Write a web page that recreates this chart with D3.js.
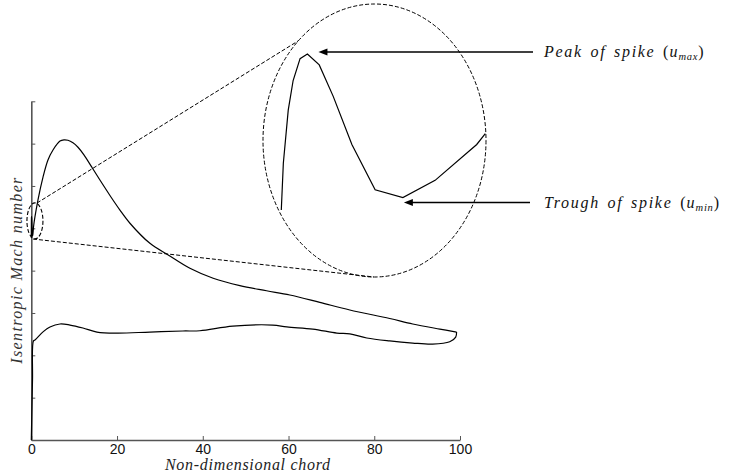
<!DOCTYPE html>
<html>
<head>
<meta charset="utf-8">
<script src="https://cdn.jsdelivr.net/npm/d3@7"></script>
<style>
  html, body { margin: 0; padding: 0; background: #fff; }
  svg { display: block; }
</style>
</head>
<body>
<svg id="chart" width="730" height="473"></svg>
<script>
// Chord positions (% of chord) and isentropic Mach numbers along the blade
const xTicks = [0, 20, 40, 60, 80, 100];

// Leading-edge spike, close to x = 0
const spikeX = [0, 0.005, 0.017, 0.029, 0.046, 0.064, 0.093, 0.127, 0.173, 0.230, 0.298, 0.377, 0.479, 0.5];
const spikeM = [0.955, 0.985, 1.019, 1.038, 1.052, 1.055, 1.048, 1.028, 0.997, 0.968, 0.963, 0.974, 0.997, 1.004];

// Suction side (after the spike)
const suctionX = [1.56, 2.73, 3.89, 5.06, 6.69, 7.62, 8.55, 9.72, 10.89, 12.28, 14.08, 16.01, 18.35, 20.68, 23.01, 27.67, 31.93, 37.0, 42.42, 48.65, 54.87, 60.3, 67.3, 74.3, 83.6, 88.97, 95.3, 99.2];
const suctionM = [1.134, 1.242, 1.323, 1.370, 1.412, 1.418, 1.416, 1.404, 1.383, 1.347, 1.290, 1.228, 1.155, 1.086, 1.024, 0.929, 0.874, 0.811, 0.764, 0.729, 0.705, 0.685, 0.650, 0.614, 0.574, 0.548, 0.524, 0.510];

// Pressure side
const pressureX = [0, 0.28, 0.51, 0.86, 2.8, 4.36, 6.69, 9.02, 12.05, 15.31, 19.98, 27.67, 35.36, 39.32, 47.0, 56.3, 59.6, 65.66, 71.26, 74.3, 78.25, 83.6, 88.97, 93.6, 97.6, 99.0, 99.2];
const pressureM = [0, 0.283, 0.468, 0.472, 0.512, 0.534, 0.548, 0.543, 0.529, 0.510, 0.505, 0.510, 0.515, 0.516, 0.538, 0.543, 0.534, 0.524, 0.505, 0.501, 0.482, 0.468, 0.458, 0.453, 0.464, 0.486, 0.510];

const labelPeak = ["Peak of spike (", "u", "max", ")"];
const labelTrough = ["Trough of spike (", "u", "min", ")"];
const xTitle = "Non-dimensional chord";
const yTitle = "Isentropic Mach number";

const svg = d3.select("#chart");

const x = d3.scaleLinear().domain([0, 100]).range([31.3, 460]);
const y = d3.scaleLinear().domain([0, 1.6]).range([440, 101.3]);

// magnified view of the leading-edge spike
const xi = d3.scaleLinear().domain([0, 0.5]).range([281.3, 485.3]);
const yi = d3.scaleLinear().domain([0.955, 1.055]).range([210, 54]);

const axisColor = "#555";
const serif = "Liberation Serif, Times New Roman, serif";

// Axes with inward ticks
const gx = svg.append("g").attr("transform", `translate(0,${y(0)})`)
  .call(d3.axisBottom(x).tickValues(xTicks).tickSizeInner(-4).tickSizeOuter(0).tickPadding(4));
gx.select(".domain").attr("stroke", axisColor).attr("stroke-width", 1.6);
gx.selectAll(".tick line").attr("stroke", axisColor).attr("stroke-width", 1);
gx.selectAll(".tick text").attr("font-family", "Liberation Sans, Arial, sans-serif")
  .attr("font-size", 14).attr("fill", "#111");

const gy = svg.append("g").attr("transform", `translate(${x(0)},0)`)
  .call(d3.axisLeft(y).ticks(8).tickSizeInner(-4).tickSizeOuter(0).tickFormat(""));
gy.select(".domain").attr("stroke", axisColor).attr("stroke-width", 1.6);
gy.selectAll(".tick line").attr("stroke", axisColor).attr("stroke-width", 1);

// Axis titles
svg.append("text")
  .attr("x", 247.5).attr("y", 470)
  .attr("text-anchor", "middle")
  .attr("font-family", serif)
  .attr("font-style", "italic").attr("font-size", 16)
  .attr("textLength", 165).attr("lengthAdjust", "spacing")
  .attr("fill", "#222")
  .text(xTitle);

svg.append("text")
  .attr("transform", `translate(22,${y(0.8)}) rotate(-90)`)
  .attr("text-anchor", "middle")
  .attr("font-family", serif)
  .attr("font-style", "italic").attr("font-size", 16)
  .attr("textLength", 186).attr("lengthAdjust", "spacing")
  .attr("fill", "#333")
  .text(yTitle);

// Mach number curves
const suction = spikeX.map((d, i) => [d, spikeM[i]])
  .concat(suctionX.map((d, i) => [d, suctionM[i]]));
const pressure = pressureX.map((d, i) => [d, pressureM[i]]);

const smooth = d3.line().x(d => x(d[0])).y(d => y(d[1])).curve(d3.curveCatmullRom.alpha(0.5));

svg.append("path").attr("d", smooth(suction))
  .attr("fill", "none").attr("stroke", "#000").attr("stroke-width", 1.2);
svg.append("path").attr("d", smooth(pressure))
  .attr("fill", "none").attr("stroke", "#000").attr("stroke-width", 1.2);

// Zoom window around the leading edge and its enlargement
const dash = "4,2";
svg.append("ellipse")
  .attr("cx", x(0.85)).attr("cy", y(1.035)).attr("rx", 8).attr("ry", 18)
  .attr("fill", "none").attr("stroke", "#000").attr("stroke-width", 1.1).attr("stroke-dasharray", dash);

svg.append("ellipse")
  .attr("cx", 374.5).attr("cy", 140.5).attr("rx", 111.5).attr("ry", 136.5)
  .attr("fill", "none").attr("stroke", "#000").attr("stroke-width", 1).attr("stroke-dasharray", dash);

svg.append("line")
  .attr("x1", 37).attr("y1", 203).attr("x2", 298).attr("y2", 41)
  .attr("stroke", "#000").attr("stroke-width", 1).attr("stroke-dasharray", dash);
svg.append("line")
  .attr("x1", 33).attr("y1", 239).attr("x2", 374).attr("y2", 277)
  .attr("stroke", "#000").attr("stroke-width", 1).attr("stroke-dasharray", dash);

// Magnified spike (piecewise linear)
const sharp = d3.line().x(d => xi(d[0])).y(d => yi(d[1]));
const spike = spikeX.map((d, i) => [d, spikeM[i]]);
svg.append("path").attr("d", sharp(spike))
  .attr("fill", "none").attr("stroke", "#000").attr("stroke-width", 1.2);

// Annotation arrows
const iPeak = d3.maxIndex(spikeM);
const iTrough = spikeM.indexOf(d3.min(spikeM.slice(iPeak)), iPeak);

function arrow(tipX, tipY, tailX) {
  svg.append("line").attr("x1", tailX).attr("y1", tipY).attr("x2", tipX + 8).attr("y2", tipY)
    .attr("stroke", "#000").attr("stroke-width", 1.3);
  svg.append("path")
    .attr("d", `M${tipX},${tipY} L${tipX + 9},${tipY - 3.6} L${tipX + 9},${tipY + 3.6} Z`)
    .attr("fill", "#000");
}
const peakTip = [xi(spikeX[iPeak]) + 11, yi(spikeM[iPeak]) - 2];
const troughTip = [xi(spikeX[iTrough]) + 1, yi(spikeM[iTrough]) + 5];
arrow(peakTip[0], peakTip[1], 533);
arrow(troughTip[0], troughTip[1], 530);

function mathLabel(parts, px, py) {
  const t = svg.append("text")
    .attr("x", px).attr("y", py)
    .attr("font-family", serif)
    .attr("font-size", 16).attr("fill", "#111");
  t.append("tspan").attr("font-style", "italic").attr("letter-spacing", 1.7)
    .attr("word-spacing", 2).text(parts[0].slice(0, -1));
  t.append("tspan").attr("letter-spacing", 1).text("(");
  t.append("tspan").attr("font-style", "italic").attr("letter-spacing", 1).text(parts[1]);
  t.append("tspan").attr("font-style", "italic").attr("font-size", 10.5)
    .attr("letter-spacing", 0.8).attr("dy", 3).text(parts[2]);
  t.append("tspan").attr("dy", -3).text(parts[3]);
}
mathLabel(labelPeak, 544, peakTip[1] + 5);
mathLabel(labelTrough, 544, troughTip[1] + 5);
</script>
</body>
</html>
